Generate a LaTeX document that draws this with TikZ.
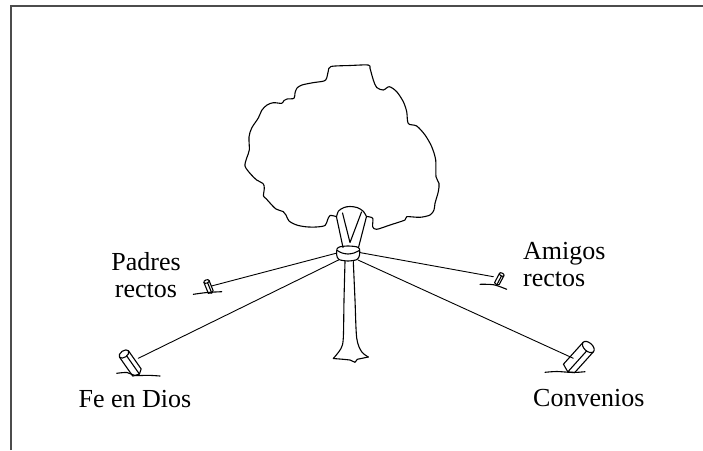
\documentclass[tikz,border=0pt]{standalone}
\usepackage{fontspec}
\setmainfont{Liberation Serif}
\usetikzlibrary{positioning}
\tikzset{
  outline/.style={line width=1.1pt,line join=round,line cap=round},
  rope/.style={line width=0.9pt,line cap=round},
  frame/.style={line width=2pt,black!70},
  lab/.style={font=\fontsize{26}{27}\selectfont,inner sep=0pt},
  stake/.pic={
    \draw[outline,fill=white] (-5,0) -- (-5,21) -- (1,23) -- (5,20) -- (5,0);
    \draw[outline,fill=white] (0,0) ellipse (5 and 3);
    \draw[outline] (1,3) -- (1,23);
  }
}

\begin{document}
\begin{tikzpicture}[x=1pt,y=-1pt]
\useasboundingbox (0,0) rectangle (703,450);
\draw[frame] (10.5,450) -- (10.5,5.5) -- (703,5.5);

% crown
\draw[outline] plot[smooth,tension=0.5] coordinates {(336,216.5)(330,215.5)(327.5,220)(325,225.5)(316,227)(306,226.8)(296.7,225)(289,221)(286,215)(283.3,211.7)(276,209)(270,203)(266,198.5)(263.5,196)(264.3,188)(263,183.5)(256.7,180)(250,173.3)(245,166)(246.7,158)(249.3,150)(249,137)(251.7,128)(258.3,118)(262,110)(267,105)(273.3,102.7)(281.7,103.3)(284,100.5)(287,99)(294,98.3)(295,93)(297,88)(302,85)(313,82.7)(324,81)(326.7,78)(328.3,71)(331,66.5)(350,65.5)(368.3,65)(370,68.3)(373.3,80)(376.7,87.5)(383.3,90)(389.3,86.7)(396.7,91.7)(403.3,101.7)(406.7,111.7)(408.3,123.5)(416.7,126)(425,135)(431.7,146.7)(435.7,160)(436,176.7)(439,183.3)(438.3,191.7)(435,203.3)(434,210)(430,215)(420,217.3)(406.7,216.7)(405,220)(390,225)(376.7,229.3)(372.7,226.7)(372.7,218.3)(367,216.5)};

% forked top of the trunk
\draw[outline] plot[smooth] coordinates {(336.5,217)(338.5,211)(344,207.5)(350,206.5)(357,207.5)(363,211)(366.5,216.5)};
\draw[outline] (336.5,217) -- (343,247.5);
\draw[outline] (366.5,216.5) -- (358.5,247.5);
\draw[outline] (342.5,213) -- (350,242.5) -- (361.5,212);

% ring
\draw[outline] plot[smooth cycle] coordinates {(337,249)(340,246.8)(348,246)(356.5,246.8)(359.5,249)(359.5,255)(357,259.5)(348,261)(339,259.5)(336.7,255)};
\draw[outline] plot[smooth] coordinates {(337.3,250.5)(342,253)(348,254)(354,253)(359.2,250.5)};
\coordinate (ringUL) at (337,253);
\coordinate (ringLL) at (338.5,260);
\coordinate (ringUR) at (359.5,252.5);
\coordinate (ringLR) at (358,260);

% trunk
\draw[outline] plot[smooth] coordinates {(345,261.5)(344,300)(343.3,338)(341,348.5)(333.3,358.5)};
\draw[outline] plot[smooth] coordinates {(353.3,261.5)(355,300)(356.7,338)(361.5,351.5)(368.3,357)};
\draw[outline] (333.3,358.5) -- (343.3,359.3) -- (350,360) -- (355,362.3) -- (357.3,359.3) -- (368.3,357);

% stakes
\pic[rotate=22,scale=0.55] at (206.5,281.5) {stake};
\pic[rotate=35,scale=1.1] at (124,354) {stake};
\pic[rotate=-28,scale=0.5] at (501.7,274.5) {stake};
\pic[rotate=-42,scale=1.4] at (588.3,347) {stake};
\coordinate (padresEnd) at (211.5,286);
\coordinate (feEnd) at (138.3,358.3);
\coordinate (amigosEnd) at (493.3,276.7);
\coordinate (convEnd) at (573.3,358.3);

% ground
\draw[outline] plot[smooth] coordinates {(193.3,294.3)(207,292.5)(221.7,291.7)};
\draw[outline] plot[smooth] coordinates {(116.7,373.3)(127,372.5)(135,375.5)(148,375.3)(160,376)};
\draw[outline] plot[smooth] coordinates {(480,284.3)(494,284.8)(506.7,289.3)};
\draw[outline] plot[smooth] coordinates {(545,372.3)(557,371.5)(573,372.5)(585,371.7)};

% ropes
\draw[rope] (ringUL) -- (padresEnd);
\draw[rope] (ringLL) -- (feEnd);
\draw[rope] (ringUR) -- (amigosEnd);
\draw[rope] (ringLR) -- (convEnd);

\node[lab,align=center,anchor=base] (padres) at (146,297.5) {Padres\\rectos};
\node[lab,align=left,anchor=base west] (amigos) at (523,286) {Amigos\\rectos};
\node[lab,anchor=base] (fe) at (135,407) {Fe en Dios};
\node[lab,anchor=base] (conv) at (588.8,406.5) {Convenios};
\end{tikzpicture}
\end{document}
